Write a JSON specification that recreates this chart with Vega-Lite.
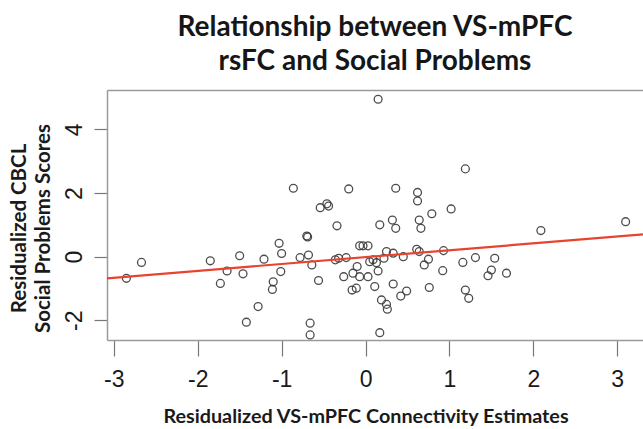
{
  "$schema": "https://vega.github.io/schema/vega-lite/v6.json",
  "width": 536,
  "height": 250,
  "autosize": "none",
  "padding": {"left": 107, "top": 90, "right": 0, "bottom": 89},
  "background": "white",
  "view": {"stroke": null},
  "title": {
    "text": ["Relationship between VS-mPFC", "rsFC and Social Problems"],
    "font": "Lato",
    "fontSize": 28,
    "fontWeight": "bold",
    "color": "#161616",
    "anchor": "middle",
    "lineHeight": 34,
    "offset": 14
  },
  "datasets": {
    "pts": [
      {"x": 0.15, "y": 4.95}, {"x": -0.86, "y": 2.15}, {"x": -0.46, "y": 1.66}, {"x": -0.44, "y": 1.59},
      {"x": -0.54, "y": 1.54}, {"x": -0.20, "y": 2.13}, {"x": 0.36, "y": 2.15}, {"x": 0.62, "y": 2.02},
      {"x": 0.62, "y": 1.75}, {"x": 0.79, "y": 1.35}, {"x": 1.02, "y": 1.50}, {"x": 1.19, "y": 2.76},
      {"x": 3.10, "y": 1.10}, {"x": -2.85, "y": -0.68}, {"x": -2.67, "y": -0.18}, {"x": -1.85, "y": -0.13},
      {"x": -1.65, "y": -0.45}, {"x": -1.73, "y": -0.84}, {"x": -1.50, "y": 0.03}, {"x": -1.46, "y": -0.54},
      {"x": -1.21, "y": -0.08}, {"x": -1.28, "y": -1.57}, {"x": -1.42, "y": -2.06}, {"x": -1.03, "y": 0.42},
      {"x": -1.00, "y": 0.10}, {"x": -1.01, "y": -0.47}, {"x": -1.10, "y": -0.79}, {"x": -1.11, "y": -1.03},
      {"x": -0.34, "y": 0.97}, {"x": -0.70, "y": 0.65}, {"x": -0.69, "y": 0.62}, {"x": -0.78, "y": -0.03},
      {"x": -0.68, "y": 0.05}, {"x": -0.64, "y": -0.26}, {"x": -0.56, "y": -0.75}, {"x": -0.66, "y": -2.09},
      {"x": -0.66, "y": -2.46}, {"x": -0.36, "y": -0.10}, {"x": -0.32, "y": -0.05}, {"x": -0.23, "y": -0.03},
      {"x": -0.07, "y": 0.34}, {"x": -0.03, "y": 0.34}, {"x": 0.03, "y": 0.34}, {"x": -0.26, "y": -0.63},
      {"x": -0.15, "y": -0.52}, {"x": -0.10, "y": -0.31}, {"x": -0.16, "y": -1.05}, {"x": -0.11, "y": -0.99},
      {"x": -0.07, "y": -0.63}, {"x": 0.03, "y": -0.63}, {"x": 0.05, "y": -0.16}, {"x": 0.09, "y": -0.10},
      {"x": 0.13, "y": -0.19}, {"x": 0.15, "y": -0.45}, {"x": 0.22, "y": -0.05}, {"x": 0.25, "y": 0.16},
      {"x": 0.33, "y": 0.11}, {"x": 0.11, "y": -0.94}, {"x": 0.17, "y": 1.00}, {"x": 0.36, "y": 0.89},
      {"x": 0.32, "y": 1.15}, {"x": 0.45, "y": 0.00}, {"x": 0.33, "y": -0.86}, {"x": 0.49, "y": -1.08},
      {"x": 0.42, "y": -1.24}, {"x": 0.19, "y": -1.36}, {"x": 0.25, "y": -1.50}, {"x": 0.26, "y": -1.65},
      {"x": 0.17, "y": -2.39}, {"x": 0.64, "y": 1.15}, {"x": 0.66, "y": 0.89}, {"x": 0.61, "y": 0.23},
      {"x": 0.64, "y": 0.16}, {"x": 0.75, "y": -0.08}, {"x": 0.70, "y": -0.26}, {"x": 0.93, "y": 0.19},
      {"x": 0.92, "y": -0.44}, {"x": 0.76, "y": -0.97}, {"x": 2.09, "y": 0.82}, {"x": 1.16, "y": -0.18},
      {"x": 1.31, "y": -0.03}, {"x": 1.54, "y": -0.05}, {"x": 1.50, "y": -0.42}, {"x": 1.46, "y": -0.60},
      {"x": 1.68, "y": -0.52}, {"x": 1.19, "y": -1.05}, {"x": 1.23, "y": -1.31}
    ],
    "fit": [
      {"x": -3.081, "y": -0.68},
      {"x": 3.307, "y": 0.70}
    ]
  },
  "layer": [
    {
      "data": {"name": "pts"},
      "mark": {"type": "point", "shape": "circle", "filled": false, "stroke": "#3a3a3a", "strokeWidth": 1.3, "size": 62, "opacity": 0.9},
      "encoding": {
        "x": {
          "field": "x", "type": "quantitative",
          "scale": {"domain": [-3.081, 3.307], "nice": false, "zero": false},
          "axis": {
            "orient": "bottom",
            "values": [-3, -2, -1, 0, 1, 2, 3],
            "labelExpr": "'' + datum.value",
            "grid": false,
            "domain": true, "domainColor": "#9a9a9a", "domainWidth": 1.5,
            "ticks": true, "tickSize": 16, "tickColor": "#777", "tickWidth": 1.2,
            "labelFont": "Liberation Sans", "labelFontSize": 23, "labelColor": "#1a1a1a", "labelPadding": 12,
            "title": "Residualized VS-mPFC Connectivity Estimates",
            "titleFont": "Lato", "titleFontSize": 19.8, "titleFontWeight": "bold", "titleColor": "#1a1a1a",
            "titleX": 258.5, "titleY": 82, "titleAlign": "center", "titleBaseline": "alphabetic"
          }
        },
        "y": {
          "field": "y", "type": "quantitative",
          "scale": {"domain": [-2.62, 5.24], "nice": false, "zero": false},
          "axis": {
            "orient": "left",
            "values": [-2, 0, 2, 4],
            "labelExpr": "'' + datum.value",
            "grid": false,
            "domain": true, "domainColor": "#9a9a9a", "domainWidth": 1.5,
            "ticks": true, "tickSize": 13, "tickColor": "#777", "tickWidth": 1.2,
            "labelFont": "Liberation Sans", "labelFontSize": 23, "labelColor": "#1a1a1a",
            "labelAngle": 270, "labelAlign": "center", "labelBaseline": "bottom", "labelPadding": 8,
            "title": ["Residualized CBCL", "Social Problems Scores"],
            "titleFont": "Lato", "titleFontSize": 20.5, "titleFontWeight": "bold", "titleColor": "#1a1a1a",
            "titleAngle": 270, "titleX": -82, "titleY": 138, "titleAlign": "center", "titleBaseline": "alphabetic",
            "titleLineHeight": 24
          }
        }
      }
    },
    {
      "data": {"name": "fit"},
      "mark": {"type": "line", "color": "#e8432e", "strokeWidth": 2.2, "clip": true},
      "encoding": {
        "x": {
          "field": "x", "type": "quantitative",
          "axis": {"orient": "top", "domain": true, "domainColor": "#9a9a9a", "domainWidth": 1.5, "ticks": false, "labels": false, "grid": false, "title": null}
        },
        "y": {"field": "y", "type": "quantitative"}
      }
    }
  ],
  "resolve": {"axis": {"x": "independent", "y": "shared"}}
}
